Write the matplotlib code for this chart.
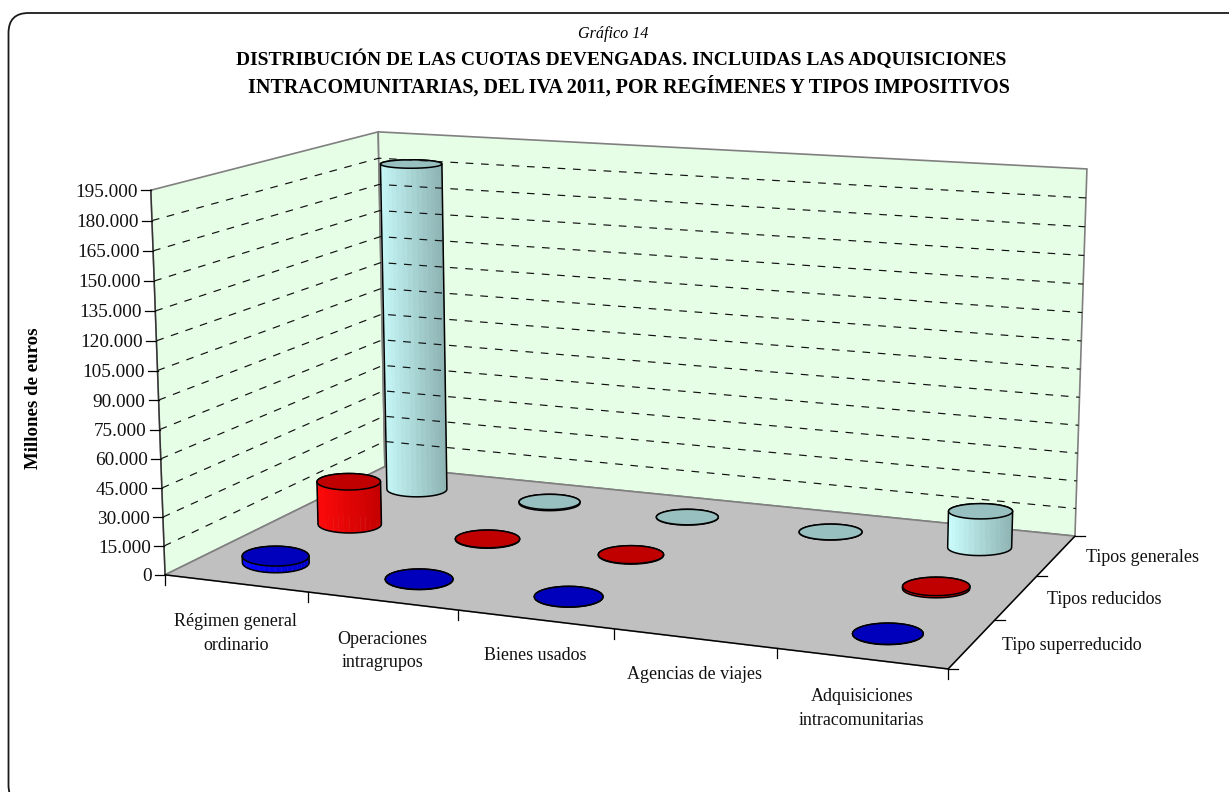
import numpy as np
import matplotlib
matplotlib.use("Agg")
import matplotlib.pyplot as plt
from matplotlib.patches import Polygon, FancyBboxPatch

# ---------- data ----------
title_top = "Gráfico 14"
title_lines = ["DISTRIBUCIÓN DE LAS CUOTAS DEVENGADAS. INCLUIDAS LAS ADQUISICIONES",
               "INTRACOMUNITARIAS, DEL IVA 2011, POR REGÍMENES Y TIPOS IMPOSITIVOS"]
y_label = "Millones de euros"
categories = ["Régimen general\nordinario", "Operaciones\nintragrupos", "Bienes usados",
              "Agencias de viajes", "Adquisiciones\nintracomunitarias"]
series_names = ["Tipo superreducido", "Tipos reducidos", "Tipos generales"]
superreducido = [3500, 150, 100, None, 150]
reducidos = [23500, 250, 250, None, 1100]
generales = [184000, 650, 150, 100, 19500]
z_ticks = list(range(0, 195001, 15000))
z_max = 195000

# ---------- styles ----------
palette = [dict(l="#0808FF", d="#0000C8", t="#0000BC"),
           dict(l="#FF0A0A", d="#C40000", t="#C00000"),
           dict(l="#CCFFFF", d="#8DB2B2", t="#99C0C0")]
FONT = "Liberation Serif"

# ---------- perspective calibration (data space -> figure pixels) ----------
world = [(0, 0, 0), (5, 0, 0), (0, 3, 0), (5, 3, 0), (0, 0, 1), (0, 3, 1), (5, 3, 1)]
image = [(165, 575), (948, 669), (385, 466.5), (1075, 536), (151, 190), (378, 132), (1087, 169)]
A = []
for (X, Y, Z), (u, v) in zip(world, image):
    A.append([X, Y, Z, 1, 0, 0, 0, 0, -u*X, -u*Y, -u*Z, -u])
    A.append([0, 0, 0, 0, X, Y, Z, 1, -v*X, -v*Y, -v*Z, -v])
P = np.linalg.svd(np.array(A, float))[2][-1].reshape(3, 4)


def proj(x, y, z=0.0):
    """x: category position, y: depth position, z: value."""
    h = P @ np.array([x, y, z / z_max, 1.0])
    return h[0] / h[2], h[1] / h[2]


def lerp_color(a, b, t):
    ca, cb = np.array(matplotlib.colors.to_rgb(a)), np.array(matplotlib.colors.to_rgb(b))
    return tuple(ca + (cb - ca) * t)


def hull(points):
    pts = sorted(set(points))
    def half(seq):
        out = []
        for p in seq:
            while len(out) > 1 and ((out[-1][0]-out[-2][0])*(p[1]-out[-2][1]) -
                                    (out[-1][1]-out[-2][1])*(p[0]-out[-2][0])) <= 0:
                out.pop()
            out.append(p)
        return out[:-1]
    return half(pts) + half(pts[::-1])


def footprint(x, y, a, b, theta):
    """Floor coordinates of a cylinder base that looks like an upright ellipse on screen."""
    d = 0.01
    p0 = np.array(proj(x, y))
    J = np.column_stack([(np.array(proj(x + d, y)) - p0) / d,
                         (np.array(proj(x, y + d)) - p0) / d])
    off = np.linalg.solve(J, np.vstack([a * np.cos(theta), b * np.sin(theta)]))
    return x + off[0], y + off[1]


fig = plt.figure(figsize=(12.29, 7.92), dpi=100)
ax = fig.add_axes([0, 0, 1, 1])
ax.set_xlim(0, 1229)
ax.set_ylim(792, 0)
ax.axis("off")

# frame
ax.add_patch(FancyBboxPatch((8.5, 13), 1290, 792, boxstyle="round,pad=0,rounding_size=20",
                            fc="white", ec="#1a1a1a", lw=1.3, clip_on=True))

n_cat, n_ser = len(categories), len(series_names)
# walls and floor
left = [proj(0, 0), proj(0, n_ser), proj(0, n_ser, z_max), proj(0, 0, z_max)]
back = [proj(0, n_ser), proj(n_cat, n_ser), proj(n_cat, n_ser, z_max), proj(0, n_ser, z_max)]
floor = [proj(0, 0), proj(n_cat, 0), proj(n_cat, n_ser), proj(0, n_ser)]
for poly in (left, back):
    ax.add_patch(Polygon(poly, fc="#E6FDE6", ec="#808080", lw=1.2))
for z in z_ticks[1:-1]:
    pts = [proj(0, 0, z), proj(0, n_ser, z), proj(n_cat, n_ser, z)]
    ax.plot(*zip(*pts), color="#111111", lw=0.85, ls=(0, (6.5, 6.5)))
ax.add_patch(Polygon(floor, fc="#C0C0C0", ec="#808080", lw=1.2))

# axes lines and ticks
ax.plot(*zip(proj(0, 0), proj(0, 0, z_max)), color="#333333", lw=1.0)
ax.plot(*zip(proj(0, 0), proj(n_cat, 0), proj(n_cat, n_ser)), color="black", lw=1.0)
for z in z_ticks:
    x0, y0 = proj(0, 0, z)
    ax.plot([x0 - 10, x0], [y0, y0], color="black", lw=0.9)
    ax.text(x0 - 13, y0 + 2, f"{z:,}".replace(",", "."), ha="right", va="center",
            family=FONT, fontsize=13.9, color="#111111")
for i in range(n_cat + 1):
    x0, y0 = proj(i, 0)
    ax.plot([x0, x0], [y0, y0 + 10], color="black", lw=0.9)
for j in range(n_ser + 1):
    x0, y0 = proj(n_cat, j)
    ax.plot([x0, x0 + 10], [y0, y0], color="black", lw=0.9)
for i, lab in enumerate(categories):
    x0, y0 = proj(i + 0.5, 0)
    off = 50 if "\n" in lab else 36.5
    ax.text(x0, y0 + off, lab, ha="center", va="center", family=FONT, fontsize=13,
            linespacing=1.5, color="#111111")
for j, lab in enumerate(series_names):
    x0, y0 = proj(n_cat, j + 0.5)
    ax.text(x0 + 30, y0 + 2, lab, ha="left", va="center", family=FONT, fontsize=13, color="#111111")

# cylinders, back row first
theta = np.linspace(0, 2 * np.pi, 37)
rows = [superreducido, reducidos, generales]
for j in range(n_ser - 1, -1, -1):
    c = palette[j]
    for i in range(n_cat):
        v = rows[j][i]
        if v is None:
            continue
        half_w = 30 + 1.7 * (2 - j) + 0.5 * i
        half_h = half_w * (0.30 - 0.025 * j)
        cx, cy = footprint(i + 0.5, j + 0.5, half_w, half_h, theta)
        bot = [proj(a, b, 0) for a, b in zip(cx, cy)]
        top = [proj(a, b, v) for a, b in zip(cx, cy)]
        xs = [p[0] for p in bot + top]
        xmin, xmax = min(xs), max(xs)
        for k in range(len(theta) - 1):
            quad = [bot[k], bot[k + 1], top[k + 1], top[k]]
            mid = (bot[k][0] + bot[k + 1][0]) / 2
            col = lerp_color(c["l"], c["d"], (mid - xmin) / (xmax - xmin))
            ax.add_patch(Polygon(quad, fc=col, ec=col, lw=0.3))
        ax.add_patch(Polygon(hull(bot + top), fc="none", ec="black", lw=1.1))
        ax.add_patch(Polygon(top[:-1], fc=c["t"], ec="black", lw=1.1))

# titles
ax.text(613, 34, title_top, ha="center", va="center", family=FONT, style="italic",
        fontsize=11.6, color="black")
ax.text(621, 59, title_lines[0], ha="center", va="center", family=FONT, weight="bold",
        fontsize=14, color="black")
ax.text(629, 87, title_lines[1], ha="center", va="center", family=FONT, weight="bold",
        fontsize=14.5, color="black")
ax.text(34, 398, y_label, rotation=90, ha="center", va="center", family=FONT,
        weight="bold", fontsize=13.6, color="black")

fig.savefig("out.png", dpi=100)
